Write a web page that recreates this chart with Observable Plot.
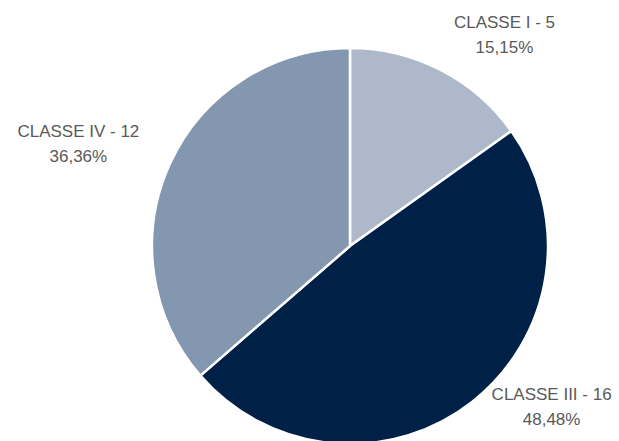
<!DOCTYPE html>
<html>
<head>
<meta charset="utf-8">
<script src="https://cdn.jsdelivr.net/npm/d3@7"></script>
<script src="https://cdn.jsdelivr.net/npm/@observablehq/plot@0.6"></script>
<style>
  html, body { margin: 0; padding: 0; background: #ffffff; }
</style>
</head>
<body>
<div id="chart"></div>
<script>
// ---- data ----
const categories = ["CLASSE I", "CLASSE III", "CLASSE IV"];
const counts = [5, 16, 12];
const percentLabels = ["15,15%", "48,48%", "36,36%"];
const colors = ["#adb9ca", "#002147", "#8497b0"];

// ---- layout (not data) ----
const labelNudge = [[36, 15], [42, -44], [-38, 2]];
const labelRadius = 1.3;

const rows = categories.map((c, i) => ({
  category: c, count: counts[i], pct: percentLabels[i], color: colors[i],
  dx: labelNudge[i][0], dy: labelNudge[i][1]
}));

const pie = d3.pie().sort(null).value(d => d.count);
const arcs = pie(rows);
arcs.forEach(a => {
  const mid = (a.startAngle + a.endAngle) / 2;
  a.data.lx = labelRadius * Math.sin(mid);
  a.data.ly = labelRadius * Math.cos(mid);
  a.data.label = `${a.data.category} - ${a.data.count}\n${a.data.pct}`;
});

// custom pie mark using Plot scales for center and radius
function pieMark(arcData) {
  return (index, scales, values, dims, context) => {
    const cx = scales.x(0), cy = scales.y(0);
    const R = Math.abs(scales.x(1) - scales.x(0));
    const arcGen = d3.arc().innerRadius(0).outerRadius(R);
    const g = d3.create("svg:g").attr("transform", `translate(${cx},${cy})`);
    g.selectAll("path").data(arcData).join("path")
      .attr("d", arcGen)
      .attr("fill", d => d.data.color)
      .attr("stroke", "#ffffff")
      .attr("stroke-width", 2.5)
      .attr("stroke-linejoin", "round");
    return g.node();
  };
}

const chart = Plot.plot({
  width: 619,
  height: 441,
  margin: 0,
  x: {domain: [-1, 1], range: [152, 548], axis: null},
  y: {domain: [-1, 1], range: [444, 48], axis: null},
  style: {fontFamily: "'Liberation Sans', Arial, sans-serif", background: "#ffffff"},
  marks: [
    pieMark(arcs),
    Plot.text(arcs.map(a => a.data), {
      x: "lx", y: "ly", text: "label",
      fontSize: 17, lineHeight: 1.47, fill: "#595959",
      textAnchor: "middle", lineAnchor: "middle",
      render: (index, scales, values, dims, context, next) => {
        const node = next(index, scales, values, dims, context);
        d3.select(node).selectAll("text").each(function(_, k) {
          const d = arcs[index[k]].data;
          const t = d3.select(this).attr("transform") || "";
          d3.select(this).attr("transform", `${t} translate(${d.dx},${d.dy})`);
        });
        return node;
      }
    })
  ]
});
document.getElementById("chart").appendChild(chart);
</script>
</body>
</html>
